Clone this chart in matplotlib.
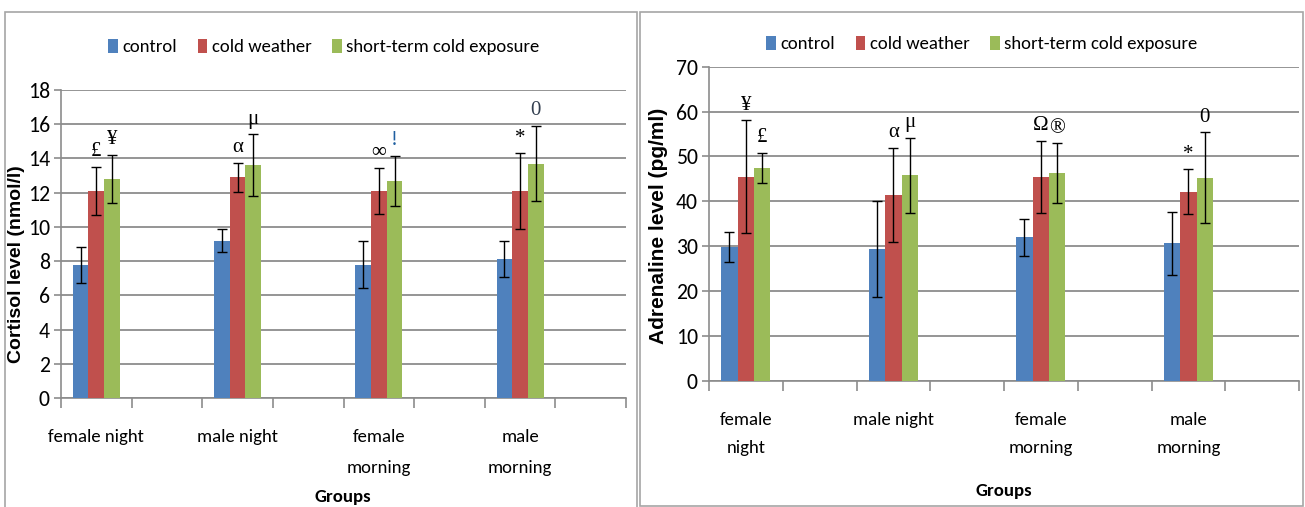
import matplotlib
matplotlib.use("Agg")
import matplotlib.pyplot as plt
import numpy as np
from matplotlib import font_manager as fm
from matplotlib.patches import Rectangle

# ---------------- data ----------------
categories_left = ["female night", "", "male night", "", "female\nmorning", "", "male\nmorning", ""]
categories_right = ["female\nnight", "", "male night", "", "female\nmorning", "", "male\nmorning", ""]
series_names = ["control", "cold weather", "short-term cold exposure"]

cortisol_control = [7.8, np.nan, 9.2, np.nan, 7.8, np.nan, 8.1, np.nan]
cortisol_cold = [12.1, np.nan, 12.9, np.nan, 12.1, np.nan, 12.1, np.nan]
cortisol_short = [12.8, np.nan, 13.6, np.nan, 12.7, np.nan, 13.7, np.nan]
cortisol_control_err = [1.05, np.nan, 0.65, np.nan, 1.35, np.nan, 1.05, np.nan]
cortisol_cold_err = [1.4, np.nan, 0.85, np.nan, 1.35, np.nan, 2.2, np.nan]
cortisol_short_err = [1.4, np.nan, 1.8, np.nan, 1.45, np.nan, 2.2, np.nan]
cortisol_marks_cold = ["£", "", "α", "", "∞", "", "*", ""]
cortisol_marks_short = ["¥", "", "μ", "", "!", "", "0", ""]

adrenaline_control = [29.9, np.nan, 29.5, np.nan, 32.0, np.nan, 30.7, np.nan]
adrenaline_cold = [45.5, np.nan, 41.4, np.nan, 45.5, np.nan, 42.2, np.nan]
adrenaline_short = [47.4, np.nan, 45.8, np.nan, 46.3, np.nan, 45.3, np.nan]
adrenaline_control_err = [3.3, np.nan, 10.7, np.nan, 4.1, np.nan, 7.0, np.nan]
adrenaline_cold_err = [12.6, np.nan, 10.5, np.nan, 8.0, np.nan, 5.0, np.nan]
adrenaline_short_err = [3.4, np.nan, 8.4, np.nan, 6.6, np.nan, 10.1, np.nan]
adrenaline_marks_cold = ["¥", "", "α", "", "Ω", "", "*", ""]
adrenaline_marks_short = ["£", "", "μ", "", "®", "", "0", ""]

# ---------------- fonts ----------------
entries = fm.fontManager.ttflist
installed = {f.name for f in entries}


def pick(cands, default="DejaVu Sans"):
    for c in cands:
        if c in installed:
            return c
    return default


narrow = pick(["Carlito", "Liberation Sans Narrow", "Roboto Condensed", "Lato", "Roboto"])
serif = pick(["Liberation Serif", "DejaVu Serif"], "DejaVu Serif")
sans = pick(["Liberation Sans", "Arial"], "DejaVu Sans")
plt.rcParams["font.family"] = [narrow, "DejaVu Sans"]
sc = 1.08 if narrow in ("Carlito", "Liberation Sans Narrow", "Roboto Condensed") else 1.0

# ---------------- style ----------------
colors = ["#4F81BD", "#C0504D", "#9BBB59"]
W, H = 1305, 507
fig = plt.figure(figsize=(W / 100, H / 100), dpi=100)

for (x0, y0, x1, y1) in [(5, 12, 637, 512), (640, 12, 1303, 506)]:
    fig.patches.append(Rectangle((x0 / W, 1 - y1 / H), (x1 - x0) / W, (y1 - y0) / H,
                                 transform=fig.transFigure, fill=False,
                                 edgecolor="#A6A6A6", linewidth=1.2))

grid_col = "#8C8C8C"
bw = 1 / 4.5


def draw(ax, cats, vals, errs, marks_cold, marks_short, ymax, ystep, ylabel,
         mark_colors_short, ylsize, lsp):
    x = np.arange(len(cats))
    for i, (v, e) in enumerate(zip(vals, errs)):
        ax.bar(x + (i - 1) * bw, v, bw, color=colors[i], label=series_names[i], zorder=3)
        ax.errorbar(x + (i - 1) * bw, v, yerr=e, fmt="none", ecolor="black",
                    elinewidth=1.0, capsize=3.5, capthick=1.0, zorder=4)
    for j in range(len(cats)):
        if marks_cold[j]:
            top = vals[1][j] + errs[1][j]
            ax.annotate(marks_cold[j], (x[j], top), xytext=(0, 4), textcoords="offset points",
                        ha="center", va="bottom", fontsize=15, family=[serif, "DejaVu Serif"],
                        color="black", zorder=5)
        if marks_short[j]:
            top = vals[2][j] + errs[2][j]
            ax.annotate(marks_short[j], (x[j] + bw, top), xytext=(0, 4), textcoords="offset points",
                        ha="center", va="bottom", fontsize=15, family=[serif, "DejaVu Serif"],
                        color=mark_colors_short[j], zorder=5)
    ax.set_xlim(-0.5, len(cats) - 0.5)
    ax.set_ylim(0, ymax)
    ax.set_yticks(np.arange(0, ymax + 0.1, ystep))
    ax.yaxis.grid(True, color=grid_col, linewidth=1.3, zorder=0)
    ax.set_axisbelow(True)
    ax.set_xticks(x)
    ax.set_xticklabels(cats, fontsize=12.5 * sc, linespacing=lsp)
    ax.set_xticks(np.arange(-0.5, len(cats)), minor=True)
    ax.tick_params(axis="x", which="major", length=0, pad=22)
    ax.tick_params(axis="x", which="minor", length=7, color=grid_col, width=1.2)
    ax.tick_params(axis="y", length=5, color=grid_col, width=1.2, labelsize=14.5 * sc, pad=3)
    for s in ["top", "right"]:
        ax.spines[s].set_visible(False)
    for s in ["left", "bottom"]:
        ax.spines[s].set_color(grid_col)
        ax.spines[s].set_linewidth(1.2)
    ax.set_ylabel(ylabel, fontsize=ylsize, fontweight="bold", family=[sans, "DejaVu Sans"])


axL = fig.add_axes([61 / W, 1 - 398 / H, (626 - 61) / W, (398 - 90) / H])
draw(axL, categories_left,
     [cortisol_control, cortisol_cold, cortisol_short],
     [cortisol_control_err, cortisol_cold_err, cortisol_short_err],
     cortisol_marks_cold, cortisol_marks_short, 18, 2, "Cortisol level (nmol/l)",
     ["black", "", "black", "", "#1F5FA0", "", "#333F50", ""], 14, 2.15)
axL.yaxis.set_label_coords(-0.064, 0.435)

axR = fig.add_axes([709 / W, 1 - 381 / H, (1299 - 709) / W, (381 - 66.7) / H])
draw(axR, categories_right,
     [adrenaline_control, adrenaline_cold, adrenaline_short],
     [adrenaline_control_err, adrenaline_cold_err, adrenaline_short_err],
     adrenaline_marks_cold, adrenaline_marks_short, 70, 10, "Adrenaline level (pg/ml)",
     ["black"] * 8, 15, 1.95)
axR.yaxis.set_label_coords(-0.069, 0.493)

fig.text(343 / W, 1 - 497 / H, "Groups", ha="center", va="center", fontsize=12.5 * sc, fontweight="bold")
fig.text(1004 / W, 1 - 491 / H, "Groups", ha="center", va="center", fontsize=12.5 * sc, fontweight="bold")

for ax, cx, cy in [(axL, 324, 47), (axR, 982, 44)]:
    h, l = ax.get_legend_handles_labels()
    fig.legend(h, l, loc="center", bbox_to_anchor=(cx / W, 1 - cy / H), ncol=3,
               frameon=False, fontsize=12.5 * sc, handlelength=0.5, handleheight=0.8,
               handletextpad=0.25, columnspacing=1.1)

fig.savefig("out.png", dpi=100)
